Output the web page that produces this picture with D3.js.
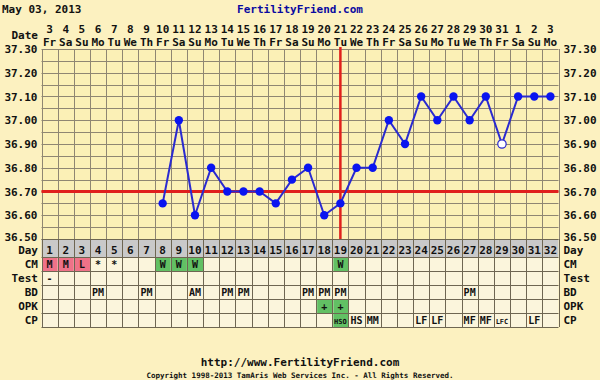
<!DOCTYPE html>
<html>
<head>
<meta charset="utf-8">
<script src="https://cdn.jsdelivr.net/npm/d3@7"></script>
<style>
  body { margin: 0; background: #fcf1c0; }
  text { font-family: "DejaVu Sans Mono", monospace; font-weight: bold; }
</style>
</head>
<body>
<div id="chart"></div>
<script>
// chart data
var days = d3.range(1, 33);
var dates = [3,4,5,6,7,8,9,10,11,12,13,14,15,16,17,18,19,20,21,22,23,24,25,26,27,28,29,30,31,1,2,3];
var weekdays = ["Fr","Sa","Su","Mo","Tu","We","Th","Fr","Sa","Su","Mo","Tu","We","Th","Fr","Sa",
                "Su","Mo","Tu","We","Th","Fr","Sa","Su","Mo","Tu","We","Th","Fr","Sa","Su","Mo"];
var temps = [null,null,null,null,null,null,null,36.65,37.00,36.60,36.80,36.70,36.70,36.70,36.65,36.75,
             36.80,36.60,36.65,36.80,36.80,37.00,36.90,37.10,37.00,37.10,37.00,37.10,36.90,37.10,37.10,37.10];
var openDays = [29];
var tempTicks = [36.50,36.60,36.70,36.80,36.90,37.00,37.10,37.20,37.30];
var coverline = 36.70;
var ovulationDay = 19;

var cm   = ["M","M","L","*","*","","","W","W","W","","","","","","","","","W","","","","","","","","","","","","",""];
var test = ["-","","","","","","","","","","","","","","","","","","","","","","","","","","","","","","",""];
var bd   = ["","","","PM","","","PM","","","AM","","PM","PM","","","","PM","PM","PM","","","","","","","","PM","","","","",""];
var opk  = ["","","","","","","","","","","","","","","","","","+","+","","","","","","","","","","","","",""];
var cp   = ["","","","","","","","","","","","","","","","","","","HSO","HS","MM","","","LF","LF","","MF","MF","LFC","","LF",""];
var rowNames = ["CM","Test","BD","OPK","CP"];

var svgWidth = 600, svgHeight = 380;
var plotLeft = 41.5, plotRight = 558.5, plotTop = 49, plotBottom = 239;

var svg = d3.select("#chart").append("svg")
  .attr("width", svgWidth)
  .attr("height", svgHeight);

svg.append("rect").attr("width", svgWidth).attr("height", svgHeight).attr("fill", "#fcf1c0");

var x = d3.scaleBand().domain(days).range([plotLeft, plotRight]);
var y = d3.scaleLinear().domain([36.5, 37.3]).range([plotBottom, plotTop]);
var cx = d => x(d) + x.bandwidth() / 2;
var edge = d => Math.round(d === 33 ? plotRight : x(d)) + 0.5;

// title
svg.append("text").attr("x", 2).attr("y", 13).attr("font-size", 11).attr("fill", "#111").text("May 03, 2013");
svg.append("text").attr("x", 300).attr("y", 13).attr("font-size", 11).attr("fill", "#0a0aa0")
  .attr("text-anchor", "middle").text("FertilityFriend.com");

// date header
svg.append("text").attr("x", 38).attr("y", 39).attr("font-size", 11).attr("text-anchor", "end").attr("fill", "#111").text("Date");
svg.selectAll(".dnum").data(days).enter().append("text")
  .attr("x", d => cx(d)).attr("y", 33).attr("text-anchor", "middle").attr("font-size", 11).attr("fill", "#111")
  .text((d, i) => dates[i]);
svg.selectAll(".wday").data(days).enter().append("text")
  .attr("x", d => cx(d)).attr("y", 46).attr("text-anchor", "middle").attr("font-size", 11).attr("fill", "#111")
  .text((d, i) => weekdays[i]);

// plot background and grid
svg.append("rect").attr("x", plotLeft).attr("y", plotTop).attr("width", plotRight - plotLeft).attr("height", plotBottom - plotTop)
  .attr("fill", "#fbf0b6");
var grid = svg.append("g").attr("stroke", "#8f8672").attr("stroke-width", 1);
grid.selectAll(".h").data(d3.range(0, 17)).enter().append("line")
  .attr("x1", plotLeft).attr("x2", plotRight)
  .attr("y1", d => Math.round(y(36.5 + d * 0.05)) + 0.5).attr("y2", d => Math.round(y(36.5 + d * 0.05)) + 0.5);
grid.selectAll(".v").data(days.concat([33])).enter().append("line")
  .attr("x1", edge).attr("x2", edge)
  .attr("y1", plotTop).attr("y2", plotBottom);

// y axes
var fmt = d3.format(".2f");
var yl = svg.append("g").attr("transform", "translate(" + (plotLeft - 1) + ",0)")
  .call(d3.axisLeft(y).tickValues(tempTicks).tickFormat(fmt).tickSize(0).tickPadding(3));
var yr = svg.append("g").attr("transform", "translate(" + (plotRight + 1) + ",0)")
  .call(d3.axisRight(y).tickValues(tempTicks).tickFormat(fmt).tickSize(0).tickPadding(4));
[yl, yr].forEach(function(g) {
  g.select(".domain").remove();
  g.selectAll("text").attr("font-family", "DejaVu Sans Mono").attr("font-weight", "bold")
    .attr("font-size", 11).attr("fill", "#111")
    .attr("dy", d => d === 36.5 ? "0.1em" : "0.32em");
});

// coverline and ovulation line
svg.append("line").attr("x1", plotLeft).attr("x2", plotRight).attr("y1", y(coverline)).attr("y2", y(coverline))
  .attr("stroke", "#e0201c").attr("stroke-width", 3);
svg.append("line").attr("x1", cx(ovulationDay)).attr("x2", cx(ovulationDay)).attr("y1", plotTop - 2).attr("y2", plotBottom)
  .attr("stroke", "#e0201c").attr("stroke-width", 2.5);

// temperature line
var pts = days.map((d, i) => ({ day: d, t: temps[i] })).filter(p => p.t !== null);
svg.append("path").datum(pts)
  .attr("fill", "none").attr("stroke", "#2a2ad0").attr("stroke-width", 2)
  .attr("d", d3.line().x(p => cx(p.day)).y(p => y(p.t)));
svg.selectAll(".pt").data(pts).enter().append("circle")
  .attr("cx", p => cx(p.day)).attr("cy", p => y(p.t)).attr("r", 4.2)
  .attr("fill", p => openDays.includes(p.day) ? "#ffffff" : "#0a14f0")
  .attr("stroke", p => openDays.includes(p.day) ? "#2a2ad0" : "none").attr("stroke-width", 1.2);

// table
var dayTop = 239, dayBottom = 257, rowH = 14;
svg.append("rect").attr("x", plotLeft).attr("y", dayTop).attr("width", plotRight - plotLeft).attr("height", dayBottom - dayTop)
  .attr("fill", "#c9c9c9");
svg.append("rect").attr("x", plotLeft).attr("y", dayBottom).attr("width", plotRight - plotLeft).attr("height", rowH * 5)
  .attr("fill", "#fbf5dc");

var rows = [cm, test, bd, opk, cp];
var cellColor = function(r, v) {
  if (r === 0 && (v === "M" || v === "L")) return "#ef7288";
  if ((r === 0 && v === "W") || (r === 3 && v === "+") || (r === 4 && v === "HSO")) return "#62c064";
  return null;
};
rows.forEach(function(row, r) {
  var ry = dayBottom + r * rowH;
  svg.selectAll(".c" + r).data(days.filter((d, i) => cellColor(r, row[i]))).enter().append("rect")
    .attr("x", d => x(d) + 1).attr("y", ry + 1).attr("width", x.bandwidth() - 1).attr("height", rowH - 1)
    .attr("fill", d => cellColor(r, row[d - 1]));
  svg.selectAll(".t" + r).data(days.filter((d, i) => row[i] !== "")).enter().append("text")
    .attr("x", d => cx(d)).attr("y", ry + 11)
    .attr("text-anchor", "middle")
    .attr("font-size", d => row[d - 1].length > 2 ? 7 : 10)
    .attr("fill", "#111")
    .text(d => row[d - 1]);
  svg.append("text").attr("x", 38).attr("y", ry + 11).attr("text-anchor", "end").attr("font-size", 11)
    .attr("fill", "#111").text(rowNames[r]);
  svg.append("text").attr("x", plotRight + 5).attr("y", ry + 11).attr("font-size", 11)
    .attr("fill", "#111").text(rowNames[r]);
});

// day numbers row
svg.selectAll(".day").data(days).enter().append("text")
  .attr("x", d => cx(d)).attr("y", 254).attr("text-anchor", "middle").attr("font-size", 11).attr("fill", "#111")
  .text(d => d);
svg.append("text").attr("x", 38).attr("y", 254).attr("text-anchor", "end").attr("font-size", 11).attr("fill", "#111").text("Day");
svg.append("text").attr("x", plotRight + 5).attr("y", 254).attr("font-size", 11).attr("fill", "#111").text("Day");

// table grid
var tgrid = svg.append("g").attr("stroke", "#6e6652").attr("stroke-width", 1);
var tableLines = [dayTop, dayBottom].concat(d3.range(1, 6).map(k => dayBottom + k * rowH));
tgrid.selectAll(".th").data(tableLines).enter().append("line")
  .attr("x1", plotLeft).attr("x2", plotRight).attr("y1", d => d + 0.5).attr("y2", d => d + 0.5);
tgrid.selectAll(".tv").data(days.concat([33])).enter().append("line")
  .attr("x1", edge).attr("x2", edge)
  .attr("y1", dayTop).attr("y2", dayBottom + 5 * rowH);

// footer
svg.append("text").attr("x", 300).attr("y", 366).attr("text-anchor", "middle").attr("font-size", 11)
  .attr("fill", "#111").text("http://www.FertilityFriend.com");
svg.append("text").attr("x", 300).attr("y", 378).attr("text-anchor", "middle").attr("font-size", 7.5)
  .attr("fill", "#111").text("Copyright 1998-2013 TamAris Web Services Inc. - All Rights Reserved.");
</script>
</body>
</html>
